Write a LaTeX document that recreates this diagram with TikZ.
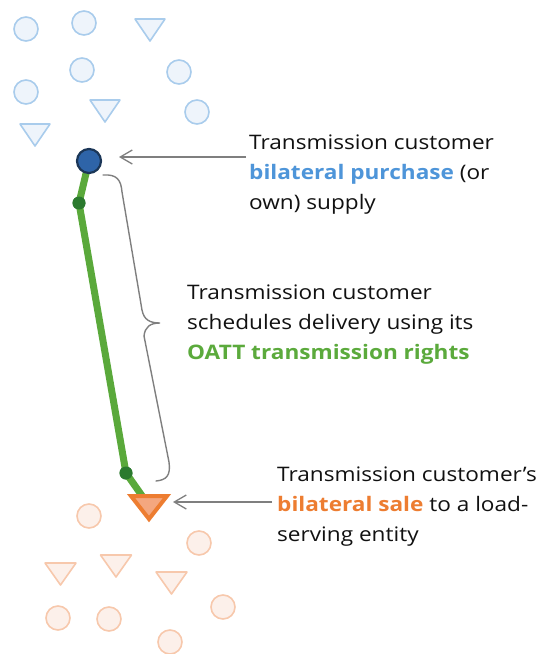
\documentclass[tikz,border=0pt]{standalone}
\usepackage{fontspec}
\setmainfont[FakeStretch=1.13]{Open Sans}
\usetikzlibrary{arrows.meta}
\definecolor{lbfill}{HTML}{EEF4FB}
\definecolor{lbdraw}{HTML}{A9CCEC}
\definecolor{dbfill}{HTML}{2E64A8}
\definecolor{dbdraw}{HTML}{1B3657}
\definecolor{lofill}{HTML}{FCF0EA}
\definecolor{lodraw}{HTML}{F7C8AC}
\definecolor{ofill}{HTML}{F4A77F}
\definecolor{odraw}{HTML}{ED7D31}
\definecolor{gline}{HTML}{5AA93B}
\definecolor{gdot}{HTML}{2B7A2E}
\definecolor{garrow}{HTML}{7F7F7F}
\definecolor{tblue}{HTML}{4E95D9}
\definecolor{tgreen}{HTML}{5BAA3C}
\definecolor{torange}{HTML}{ED7D31}
\definecolor{tblack}{HTML}{111111}
\tikzset{
  bcirc/.style={circle,minimum size=24pt,inner sep=0pt,fill=lbfill,draw=lbdraw,line width=1.6pt},
  ocirc/.style={circle,minimum size=24pt,inner sep=0pt,fill=lofill,draw=lodraw,line width=1.6pt},
  btri/.style={fill=lbfill,draw=lbdraw,line width=1.6pt,line join=round},
  otri/.style={fill=lofill,draw=lodraw,line width=1.6pt,line join=round},
  gdotst/.style={circle,minimum size=13pt,inner sep=0pt,fill=gdot},
  callout/.style={draw=garrow,line width=1.3pt,-{Straight Barb[length=12pt,width=14pt,line width=1.3pt]}},
  label/.style={anchor=north west,align=left,inner sep=0pt,text=tblack,font=\fontsize{20}{30}\selectfont},
}
\begin{document}
\begin{tikzpicture}[x=1pt,y=-1pt]
\useasboundingbox (0,0) rectangle (541,654);
% light blue circles
\node[bcirc] (b1) at (26,29) {};
\node[bcirc] (b2) at (84,23) {};
\node[bcirc] (b3) at (82,70) {};
\node[bcirc] (b4) at (179,72) {};
\node[bcirc] (b5) at (26,92) {};
\node[bcirc] (b6) at (197,112) {};
% light blue triangles
\foreach \x/\y in {150/30, 105/111, 35/135}
  \draw[btri] (\x-15,\y-11) -- (\x+15,\y-11) -- (\x,\y+11) -- cycle;
% light orange circles
\node[ocirc] (o1) at (89,516) {};
\node[ocirc] (o2) at (199,543) {};
\node[ocirc] (o3) at (58,618) {};
\node[ocirc] (o4) at (109,619) {};
\node[ocirc] (o5) at (223,607) {};
\node[ocirc] (o6) at (170,642) {};
% light orange triangles
\foreach \x/\y in {60.5/574, 116/566, 171.5/583}
  \draw[otri] (\x-15.5,\y-11) -- (\x+15.5,\y-11) -- (\x,\y+11) -- cycle;
% green path
\coordinate (src) at (89,161);
\node[gdotst] (d1) at (79,203) {};
\node[gdotst] (d2) at (126,473) {};
\coordinate (snk) at (145,500);
\draw[gline,line width=7pt,line join=round] (src) -- (d1.center) -- (d2.center) -- (snk);
\node[gdotst] at (d1) {};
\node[gdotst] at (d2) {};
% supply circle
\node[circle,minimum size=24pt,inner sep=0pt,fill=dbfill,draw=dbdraw,line width=2.2pt] (sup) at (src) {};
% sale triangle
\draw[fill=ofill,draw=odraw,line width=4pt,line join=miter] (131,496) -- (167,496) -- (149,519) -- cycle;
\coordinate (saletip) at (173,502);
% brace
\draw[garrow,line width=1.4pt,line cap=round] (103,175) .. controls (117,174) and (121,180) .. (122,192)
  -- (142,310) .. controls (144,320) and (150,323) .. (160,323)
  .. controls (150,323) and (145,327) .. (144,336)
  -- (169,462) .. controls (171,476) and (166,480) .. (156,481);
% labels
\node[label] (t1) at (249,135) {Transmission customer\\{\bfseries\color{tblue}bilateral purchase} (or\\own) supply};
\node[label] (t2) at (187,285) {Transmission customer\\schedules delivery using its\\{\bfseries\color{tgreen}OATT transmission rights}};
\node[label] (t3) at (277,467) {Transmission customer’s\\{\bfseries\color{torange}bilateral sale} to a load-\\serving entity};
% callout arrows
\coordinate (a1s) at (246,157);
\coordinate (a1e) at (119,157);
\draw[callout] (a1s) -- (a1e);
\coordinate (a2s) at (272,502);
\draw[callout] (a2s) -- (saletip);
\end{tikzpicture}
\end{document}
